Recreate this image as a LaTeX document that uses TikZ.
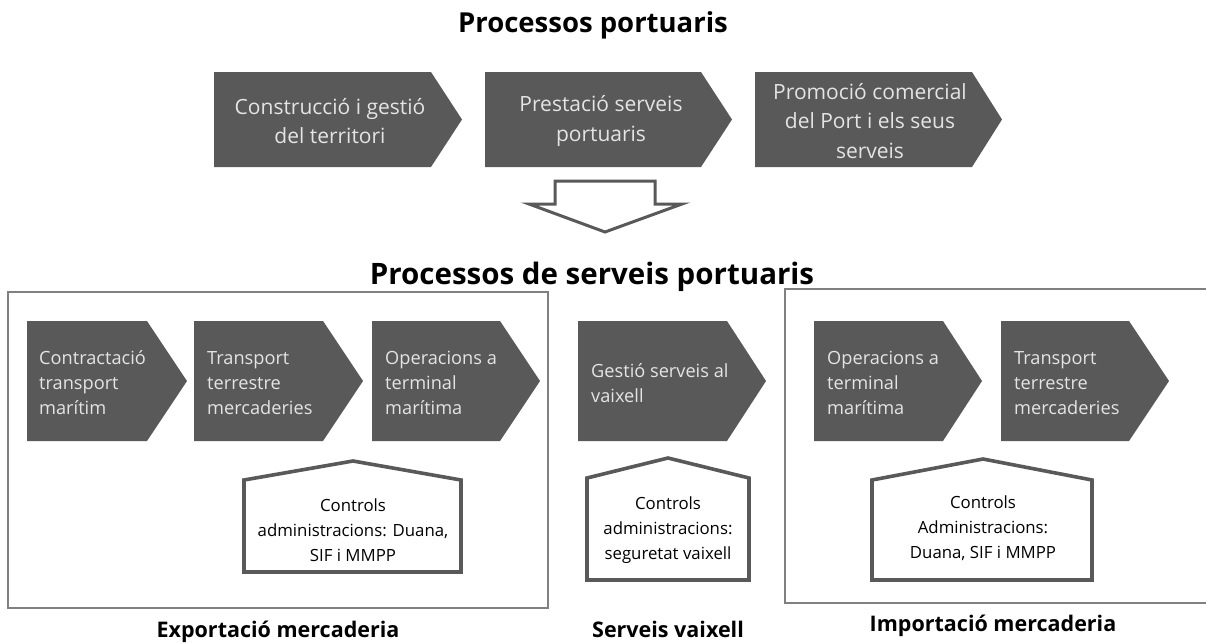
\documentclass[tikz,border=0pt]{standalone}
\usepackage{fontspec}
\setmainfont{Open Sans}
\definecolor{chevgray}{HTML}{595959}
\definecolor{chevtxt}{HTML}{E4E4E4}
\definecolor{boxline}{HTML}{808080}
\newcommand{\chevshape}[5]{% left, top, bodyright, tip, bottom
  \fill[chevgray] (#1,#2) -- (#3,#2) -- (#4,{(#2+#5)/2}) -- (#3,#5) -- (#1,#5) -- cycle;}
\newcommand{\houseshape}[6]{% left, right, apexx, apexy, eaves, bottom
  \draw[housestyle] (#1,#6) -- (#1,#5) -- (#3,#4) -- (#2,#5) -- (#2,#6) -- cycle;}
\begin{document}
\begin{tikzpicture}[x=1pt,y=-1pt,
  titlestyle/.style={font=\bfseries\fontsize{27.5}{30}\selectfont, inner sep=0pt, anchor=base},
  labelstyle/.style={font=\bfseries\fontsize{21.5}{24}\selectfont, inner sep=0pt, anchor=base},
  toptxt/.style={font=\fontsize{21}{29.5}\selectfont, text=chevtxt, align=center, inner sep=0pt},
  rowtxt/.style={font=\fontsize{18.2}{25}\selectfont, text=chevtxt, align=left, inner sep=0pt, anchor=west},
  housestyle/.style={draw=chevgray, line width=3.6pt, line join=miter, fill=white},
  housetxt/.style={font=\fontsize{16.8}{25}\selectfont, text=black, align=center, inner sep=0pt},
  boxstyle/.style={draw=boxline, line width=1.2pt},
  arrowstyle/.style={draw=chevgray, line width=3pt, line join=miter, fill=white}]
\useasboundingbox (0,0) rectangle (1206,642);

% Titles
\node[titlestyle] (title1) at (593,33) {Processos portuaris};
\node[titlestyle, font=\bfseries\fontsize{29.5}{32}\selectfont] (title2) at (592,284) {Processos de serveis portuaris};

% Top row chevrons
\chevshape{214}{72}{431}{462}{167}
\chevshape{485}{72}{701}{732}{167}
\chevshape{755}{72}{972}{1002}{167}
\node[toptxt] (c1) at (330,121) {Construcció i gestió\\del territori};
\node[toptxt] (c2) at (601,121) {Prestació serveis\\portuaris};
\node[toptxt] (c3) at (870,121) {Promoció comercial\\del Port i els seus\\serveis};

% Hollow down arrow
\draw[arrowstyle] (555,181) -- (655,181) -- (655,204) -- (682,204) -- (605,232)
  -- (529,204) -- (555,204) -- cycle;

% Boxes
\draw[boxstyle] (8,292) rectangle (548,608);
\draw[boxstyle] (1212,289) -- (785,289) -- (785,603) -- (1212,603);

% Second row chevrons
\chevshape{27}{321}{147}{187}{441}
\chevshape{194}{321}{323}{363}{441}
\chevshape{372}{321}{500}{540}{441}
\chevshape{578}{321}{727}{766}{441}
\chevshape{814}{321}{943}{982}{441}
\chevshape{1001}{321}{1129}{1169}{441}
\node[rowtxt] (a1) at (39,383) {Contractació\\transport\\marítim};
\node[rowtxt] (a2) at (207,383) {Transport\\terrestre\\mercaderies};
\node[rowtxt] (a3) at (385,383) {Operacions a\\terminal\\marítima};
\node[rowtxt] (m1) at (591,383) {Gestió serveis al\\vaixell};
\node[rowtxt] (i1) at (827,383) {Operacions a\\terminal\\marítima};
\node[rowtxt] (i2) at (1014,383) {Transport\\terrestre\\mercaderies};

% Houses
\houseshape{244}{461}{353}{461}{480}{572}
\houseshape{587}{749}{668}{458}{478}{580}
\houseshape{872}{1092}{983}{459}{480}{580}
\node[housetxt] (h1) at (353,530) {Controls\\administracions: Duana,\\SIF i MMPP};
\node[housetxt] (h2) at (668,530) {Controls\\administracions:\\seguretat vaixell};
\node[housetxt] (h3) at (983,528) {Controls\\Administracions:\\Duana, SIF i MMPP};

% Bottom labels
\node[labelstyle] (l1) at (278,637) {Exportació mercaderia};
\node[labelstyle] (l2) at (668,637) {Serveis vaixell};
\node[labelstyle] (l3) at (993,631) {Importació mercaderia};
\end{tikzpicture}
\end{document}
